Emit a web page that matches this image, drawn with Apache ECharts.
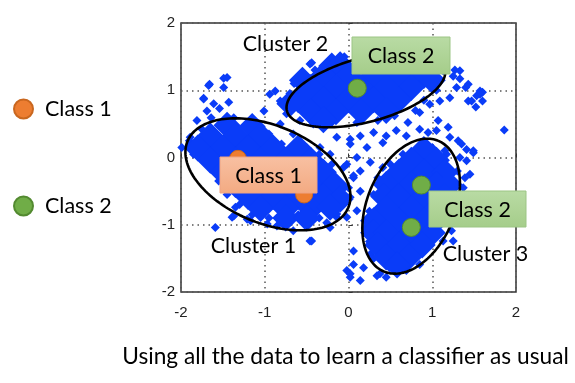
<!DOCTYPE html>
<html>
<head>
<meta charset="utf-8">
<script src="https://cdn.jsdelivr.net/npm/echarts@6/dist/echarts.min.js"></script>
<style>
html,body{margin:0;padding:0;background:#fff;}
#chart{width:575px;height:383px;}
</style>
</head>
<body>
<div id="chart"></div>
<script>
// ---- data ----
const xTicks = [-2, -1, 0, 1, 2];
const yTicks = [-2, -1, 0, 1, 2];

// dense cores of the three clusters (drawn with larger diamonds)
const corePoints = [
  // cluster 1
  [-1.45,0.48],[-1.15,0.46],
  [-1.65,0.32],[-1.35,0.32],[-1.05,0.32],
  [-1.8,0.14],[-1.5,0.14],[-1.2,0.14],[-0.9,0.14],[-0.6,0.14],
  [-1.65,-0.04],[-1.35,-0.04],[-1.05,-0.04],[-0.75,-0.04],[-0.45,-0.04],
  [-1.5,-0.22],[-1.2,-0.22],[-0.9,-0.22],[-0.6,-0.22],[-0.3,-0.22],
  [-1.35,-0.4],[-1.05,-0.4],[-0.75,-0.4],[-0.45,-0.4],[-0.17,-0.4],
  [-1.2,-0.58],[-0.9,-0.58],[-0.6,-0.58],[-0.3,-0.58],[-0.1,-0.62],
  [-1.05,-0.76],[-0.75,-0.76],[-0.45,-0.76],[-0.22,-0.74],
  [-0.75,-0.9],[-0.5,-0.9],
  // cluster 2
  [-0.2,1.36],[-0.1,1.38],[0.45,1.40],[0.75,1.40],
  [-0.55,1.15],[-0.3,1.22],[0,1.22],[0.3,1.22],[0.6,1.22],[0.9,1.22],[1.0,1.15],
  [-0.45,1.04],[-0.15,1.04],[0.15,1.04],[0.45,1.04],[0.75,1.04],
  [-0.7,0.8],[-0.6,0.86],[-0.3,0.86],[0,0.86],[0.3,0.86],[0.6,0.86],
  [-0.45,0.68],[-0.15,0.68],[0.15,0.68],[0.45,0.7],[-0.3,0.56],
  // cluster 3
  [0.9,0.12],
  [0.75,-0.04],[1.05,-0.04],
  [0.6,-0.22],[0.9,-0.22],[1.15,-0.22],
  [0.45,-0.4],[0.75,-0.4],[1.05,-0.4],[1.2,-0.4],
  [0.42,-0.58],[0.6,-0.58],[0.9,-0.58],[1.15,-0.58],
  [0.45,-0.76],[0.75,-0.76],[1.05,-0.76],
  [0.3,-0.94],[0.6,-0.94],[0.9,-0.94],
  [0.3,-1.12],[0.45,-1.12],[0.75,-1.12],[1.0,-1.12],
  [0.35,-1.3],[0.6,-1.3],[0.88,-1.3],
  [0.45,-1.48],[0.72,-1.48],[0.58,-1.6]
];

// scattered single samples
const sparsePoints = [
  [-1.66,1.09],[-1.49,1.18],[-1.73,0.88],[-1.61,0.80],[-1.54,0.73],[-1.43,0.82],
  [-1.64,0.59],[-1.37,0.59],[-1.49,1.04],[-1.01,0.69],[-0.875,0.99],[-0.815,0.84],
  [-0.94,0.94],[-0.74,0.65],[-0.46,1.39],[-0.58,0.55],[-0.42,0.50],[-0.815,0.50],
  [-0.66,0.35],[-0.34,0.15],[-0.22,0.05],
  [1.27,1.30],[1.33,1.17],[1.40,1.04],[1.53,0.92],[1.60,0.97],[1.43,0.84],[1.52,0.75],
  [1.86,0.41],[1.29,1.04],[1.21,0.89],[1.09,0.84],[0.97,0.79],[1.07,0.55],[1.19,0.45],
  [0.85,0.67],[0.71,0.52],[0.57,0.40],[0.45,0.32],[0.69,0.32],[0.95,0.37],[0.30,0.37],
  [0.14,0.32],[0.02,0.27],[1.31,0.25],[1.41,0.12],[1.49,0.10],[1.57,0.99],
  [-0.14,0.30],[0.02,0.20],[0.22,0.15],[0.41,0.22],[0.10,0.0],[0.26,-0.07],
  [-0.30,-0.10],[-0.06,-0.15],[0.06,-0.30],[-0.14,-0.40],[0.02,-0.59],[0.10,-0.79],
  [-0.02,-0.89],[0.41,-0.15],[-0.22,-0.59],[-0.34,-0.74],[-0.18,-0.79],[-0.46,-1.24],
  [-0.02,-1.68],[0.02,-1.78],[0.18,-1.64],[0.26,-1.44],[0.375,-1.73],[0.45,-1.78],
  [0.57,-1.59],[0.69,-1.68],[0.85,-1.59],[1.13,-1.24],[1.23,-1.09],[1.29,-0.89],
  [1.33,-0.69],[1.37,-0.45],[1.35,0.20],[1.21,0.30],[1.05,0.40],[0.85,0.42],
  [1.41,-0.05],[1.45,-0.25],[1.23,-0.20],
  [-1.59,-1.04],[-1.39,-0.89],[-1.17,-0.94],[-1.35,-0.74],[-1.89,0.20],[-1.73,0.15],
  [-1.67,1.07],[-1.73,0.87],[-1.45,1.19],[-0.97,-0.99],[-0.78,-0.99],[-0.66,-1.09],
  [-0.855,-0.64],[-0.30,-0.50],[-0.22,-1.04],[-0.42,-0.89],[-0.14,-0.89],[-0.50,-0.69],
  [-1.37,-0.87],[-1.21,-0.92],[-0.855,-1.02],[-0.44,-1.24],[-0.26,-0.97],[-0.14,-0.84],
  [0.06,-1.59],[0.02,-1.73],
  [-1.99,0.15],[-1.89,0.30],[-1.81,0.55],[-1.69,0.69],
  [-0.44,1.41],[-0.22,1.29],[1.13,1.29],[1.25,1.21],[1.33,1.29],[1.43,1.09],[1.57,0.94],
  [1.60,0.84],[1.47,0.84],
  [-0.02,-0.10],[0.06,-0.27],[0.14,-0.20],[0.0,-0.45],[0.14,-0.50],[0.06,-1.39],
  [0.14,-1.83],[0.34,-1.76],[0.49,-1.64],[1.25,-1.24],[1.33,-0.84],[1.37,-0.59],
  [1.39,-0.30],[1.33,0.0],[1.49,0.07],[1.09,-0.10],[1.17,0.05],
  [-1.9,0.25],[-1.85,0.05],[-1.75,0.42],[-1.55,0.48],[-1.4,0.5],[-1.2,0.48],[-0.95,0.35],
  [-0.8,0.2],[-1.55,-0.35],[-1.45,-0.55],[-1.3,-0.7],[-1.15,-0.85],[-0.95,-0.9],
  [-0.8,-0.9],[-0.6,-0.85],[-0.35,-0.9],[-0.1,-0.65],[-0.05,-0.45],[-0.2,-0.1],
  [-0.35,0.05],[-0.5,0.15],
  [-0.7,0.95],[-0.65,1.1],[-0.55,1.2],[-0.4,1.3],[-0.25,1.35],[-0.05,1.5],[1.0,1.3],
  [1.1,1.15],[1.05,1.0],[0.9,0.85],[0.8,0.7],[0.55,0.62],[0.35,0.55],[0.1,0.52],
  [-0.2,0.52],[-0.4,0.55],[-0.65,0.75],
  [0.85,0.12],[1.0,0.15],[1.15,0.1],[0.65,0.05],[0.5,-0.1],[0.35,-0.3],[0.3,-0.55],
  [0.25,-0.8],[0.2,-1.05],[0.25,-1.25],[0.3,-1.5],[0.55,-1.62],[0.8,-1.45],[0.95,-1.2],
  [1.1,-1.0],[1.25,-0.7],[1.28,-0.45],[1.3,-0.2]
];

// ellipses: centre, end of major semi-axis, end of minor semi-axis (data units)
const clusterEllipses = [
  [-0.962,-0.250, -0.002,-0.743, -0.740,0.421],
  [0.208,1.007, 1.151,1.322, 0.307,0.547],
  [0.748,-0.724, 1.074,0.247, 1.231,-0.978]
];

const class1Points = [[-1.32,-0.02],[-0.53,-0.55]];
const class2Points = [[0.105,1.03],[0.87,-0.41],[0.75,-1.04]];

const clusterNames = ['Cluster 1','Cluster 2','Cluster 3'];
const classNames = ['Class 1','Class 2'];
const captionText = 'Using all the data to learn a classifier as usual';

// ---- chart ----
const FONT = 'Lato, "Open Sans", sans-serif';
const BLUE = '#0a3cf8';
const DIAMOND = 'path://M50,0L100,50L50,100L0,50Z';
const chart = echarts.init(document.getElementById('chart'), null, {renderer:'canvas'});

function ellipseItem(params, api) {
  const cx = api.value(0), cy = api.value(1);
  const ux = api.value(2) - cx, uy = api.value(3) - cy;
  const vx = api.value(4) - cx, vy = api.value(5) - cy;
  const pts = [];
  for (let i = 0; i <= 160; i++) {
    const t = i / 160 * Math.PI * 2;
    pts.push(api.coord([cx + ux * Math.cos(t) + vx * Math.sin(t),
                        cy + uy * Math.cos(t) + vy * Math.sin(t)]));
  }
  return {type:'polyline', shape:{points:pts}, style:{fill:null, stroke:'#000', lineWidth:2.6}};
}

function box(x, y, w, h, top, bottom, stroke, label) {
  return [
    {type:'rect', z:100, shape:{x:x, y:y, width:w, height:h},
     style:{fill:new echarts.graphic.LinearGradient(0,0,0,1,[{offset:0,color:top},{offset:1,color:bottom}]),
            stroke:stroke, lineWidth:1}},
    {type:'text', z:101, style:{text:label, x:x + w/2, y:y + h/2 + 1, align:'center', verticalAlign:'middle',
            fontSize:21.5, fontFamily:FONT, fill:'#000'}}
  ];
}
function txt(x, y, s, size) {
  return {type:'text', z:101, style:{text:s, x:x, y:y, align:'center', verticalAlign:'middle',
          fontSize:size, fontFamily:FONT, fill:'#000'}};
}

const option = {
  animation:false,
  backgroundColor:'#fff',
  grid:{left:181, right:59, top:23, bottom:91, show:true, borderColor:'#333', borderWidth:1.5, backgroundColor:'#fff'},
  legend:{
    data:classNames, orient:'vertical', left:8, top:93, icon:'circle',
    itemWidth:19, itemHeight:19, itemGap:75,
    textStyle:{fontSize:21.5, fontFamily:FONT, color:'#000', padding:[0,0,0,7]},
    selectedMode:false
  },
  xAxis:{
    type:'value', min:-2, max:2, interval:1,
    axisLine:{show:false},
    axisTick:{show:true, inside:true, length:4, lineStyle:{color:'#333'}},
    splitLine:{show:true, lineStyle:{type:[1.5,4], color:'#555', width:1.5}},
    axisLabel:{color:'#222', fontSize:15, margin:13, fontFamily:'"Liberation Sans", Arial, sans-serif',
               customValues:xTicks}
  },
  yAxis:{
    type:'value', min:-2, max:2, interval:1,
    axisLine:{show:false},
    axisTick:{show:true, inside:true, length:4, lineStyle:{color:'#333'}},
    splitLine:{show:true, lineStyle:{type:[1.5,4], color:'#555', width:1.5}},
    axisLabel:{color:'#222', fontSize:15, margin:6, fontFamily:'"Liberation Sans", Arial, sans-serif',
               customValues:yTicks}
  },
  series:[
    {type:'scatter', name:'samples', data:sparsePoints, symbol:DIAMOND, symbolSize:9,
     itemStyle:{color:BLUE, opacity:1, borderWidth:0}, silent:true, z:2},
    {type:'scatter', name:'core', data:corePoints, symbol:DIAMOND, symbolSize:27,
     itemStyle:{color:BLUE, opacity:1, borderWidth:0}, silent:true, z:2},
    {type:'custom', name:'clusters', data:clusterEllipses, renderItem:ellipseItem,
     encode:{x:0, y:1}, silent:true, z:5, clip:false},
    {type:'scatter', name:'Class 1', data:class1Points, symbol:'circle', symbolSize:17,
     itemStyle:{color:'#ed7d31', borderColor:'#c9671f', borderWidth:1, opacity:1}, z:6},
    {type:'scatter', name:'Class 2', data:class2Points, symbol:'circle', symbolSize:18,
     itemStyle:{color:'#70ad47', borderColor:'#538a30', borderWidth:1, opacity:1}, z:6}
  ],
  graphic:[].concat(
    box(352, 37, 98, 37, '#b9dba4', '#a5cd8a', '#9cc585', classNames[1]),
    box(220, 157, 97, 36, '#f8c0a2', '#f3aa82', '#eea383', classNames[0]),
    box(429, 191, 97, 36, '#b9dba4', '#a5cd8a', '#9cc585', classNames[1]),
    [txt(285.5, 44, clusterNames[1], 21.5),
     txt(253.5, 246, clusterNames[0], 21.5),
     txt(485.5, 254, clusterNames[2], 21.5),
     txt(345.5, 357, captionText, 22.7)]
  )
};
chart.setOption(option);
</script>
</body>
</html>
